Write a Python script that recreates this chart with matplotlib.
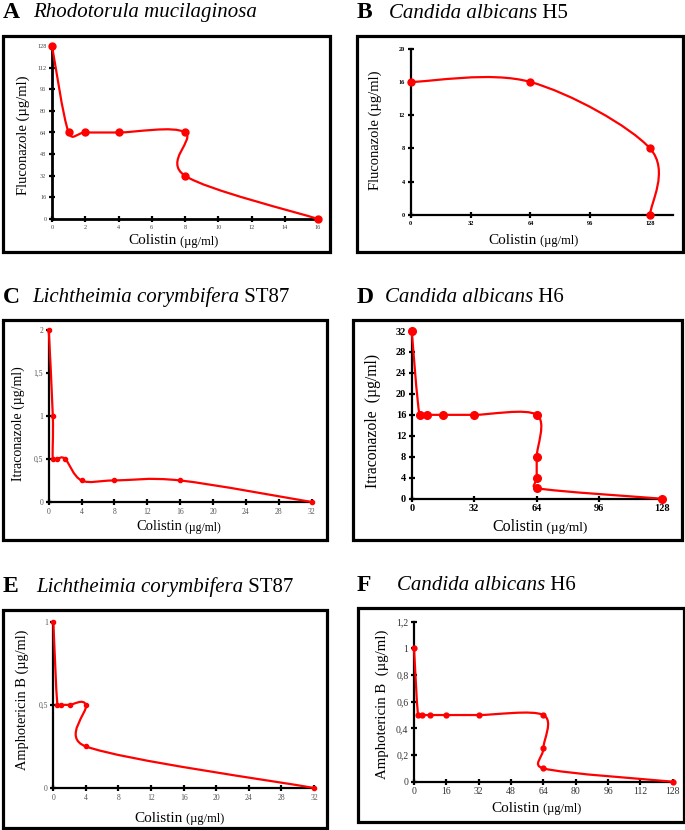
import numpy as np
import matplotlib.pyplot as plt
from matplotlib.path import Path
from matplotlib.patches import PathPatch, Rectangle
from matplotlib.text import Annotation

plt.rcParams['font.family'] = ['Liberation Serif', 'DejaVu Serif']

W, H = 685, 830

# A  Rhodotorula mucilaginosa : colistin vs fluconazole
a_col = [0, 1, 2, 4, 8, 8, 16]
a_drug = [128, 64, 64, 64, 64, 32, 0]
a_xticks = [0, 2, 4, 6, 8, 10, 12, 14, 16]
a_yticks = [0, 16, 32, 48, 64, 80, 96, 112, 128]

# B  Candida albicans H5 : colistin vs fluconazole
b_col = [0, 64, 128, 128]
b_drug = [16, 16, 8, 0]
b_xticks = [0, 32, 64, 96, 128]
b_yticks = [0, 4, 8, 12, 16, 20]

# C  Lichtheimia corymbifera ST87 : colistin vs itraconazole
c_col = [0, 0.5, 0.5, 1, 2, 4, 8, 16, 32]
c_drug = [2, 1, 0.5, 0.5, 0.5, 0.25, 0.25, 0.25, 0]
c_xticks = [0, 4, 8, 12, 16, 20, 24, 28, 32]
c_yticks = [0, 0.5, 1, 1.5, 2]
c_ylabels = ['0', '0,5', '1', '1,5', '2']

# D  Candida albicans H6 : colistin vs itraconazole
d_col = [0, 4, 8, 16, 32, 64, 64, 64, 64, 128]
d_drug = [32, 16, 16, 16, 16, 16, 8, 4, 2, 0]
d_xticks = [0, 32, 64, 96, 128]
d_yticks = [0, 4, 8, 12, 16, 20, 24, 28, 32]

# E  Lichtheimia corymbifera ST87 : colistin vs amphotericin B
e_col = [0, 0.5, 1, 2, 4, 4, 32]
e_drug = [1, 0.5, 0.5, 0.5, 0.5, 0.25, 0]
e_xticks = [0, 4, 8, 12, 16, 20, 24, 28, 32]
e_yticks = [0, 0.5, 1]
e_ylabels = ['0', '0,5', '1']

# F  Candida albicans H6 : colistin vs amphotericin B
f_col = [0, 2, 4, 8, 16, 32, 64, 64, 64, 128]
f_drug = [1, 0.5, 0.5, 0.5, 0.5, 0.5, 0.5, 0.25, 0.1, 0]
f_xticks = [0, 16, 32, 48, 64, 80, 96, 112, 128]
f_yticks = [0, 0.2, 0.4, 0.6, 0.8, 1, 1.2]
f_ylabels = ['0', '0,2', '0,4', '0,6', '0,8', '1', '1,2']

fig = plt.figure(figsize=(W / 100, H / 100), dpi=100)


def px(x0, y0, x1, y1):
    # pixel box -> figure fraction rect
    return [x0 / W, 1 - y1 / H, (x1 - x0) / W, (y1 - y0) / H]


def smooth(ax, xs, ys):
    # smoothed line like the spreadsheet one, worked out in screen space
    (xa, xb), (ya, yb) = ax.get_xlim(), ax.get_ylim()
    bb = ax.get_position()
    sx = bb.width * W / (xb - xa)
    sy = bb.height * H / (yb - ya)
    p = np.column_stack([np.asarray(xs, float) * sx, np.asarray(ys, float) * sy])
    pp = np.vstack([p[0], p, p[-1]])
    d = np.linalg.norm(np.diff(pp, axis=0), axis=1)  # segment lengths

    def fac(seg, other):
        if seg + other == 0:
            return 0
        return min(1 / 6, 0.7 * seg / (seg + other))

    verts, codes = [p[0]], [Path.MOVETO]
    for i in range(len(p) - 1):
        seg = d[i + 1]
        c1 = pp[i + 1] + (pp[i + 2] - pp[i]) * fac(seg, d[i])
        c2 = pp[i + 2] - (pp[i + 3] - pp[i + 1]) * fac(seg, d[i + 2])
        verts += [c1, c2, pp[i + 2]]
        codes += [Path.CURVE4] * 3
    verts = np.array(verts) / [sx, sy]
    return Path(verts, codes)


def panel(rect, frame, xs, ys, xlim, ylim, xticks, yticks, ylabels, ylab,
          ylab_xy, ylab_size, xsplit, xlab_y, xlab_size, tsize, tcolor,
          tweight, ms, spine_w=1.6):
    ax = fig.add_axes(px(*rect))
    fig.add_artist(Rectangle((frame[0] / W, 1 - frame[3] / H),
                             (frame[2] - frame[0]) / W, (frame[3] - frame[1]) / H,
                             transform=fig.transFigure, fill=False,
                             lw=2.3, ec='black'))
    ax.set_xlim(*xlim)
    ax.set_ylim(*ylim)
    ax.set_facecolor('none')
    for s in ['top', 'right']:
        ax.spines[s].set_visible(False)
    for s in ['left', 'bottom']:
        ax.spines[s].set_linewidth(spine_w)
    ax.set_xticks(xticks)
    ax.set_xticklabels([str(t) for t in xticks])
    ax.set_yticks(yticks)
    ax.set_yticklabels(ylabels)
    ax.tick_params(direction='inout', length=4, width=1.6, pad=2,
                   labelsize=tsize, labelcolor=tcolor)
    for lab in ax.get_xticklabels() + ax.get_yticklabels():
        lab.set_fontweight(tweight)

    ax.add_patch(PathPatch(smooth(ax, xs, ys), fill=False, ec='#ff0000',
                           lw=1.6, clip_on=False, zorder=4))
    ax.plot(xs, ys, 'o', color='#ff0000', ms=ms, clip_on=False, zorder=5)

    fig.text(ylab_xy[0] / W, 1 - ylab_xy[1] / H, ylab, rotation=90,
             ha='center', va='center', fontsize=ylab_size)
    t = fig.text(xsplit / W, 1 - xlab_y / H, 'Colistin', ha='right',
                 va='center', fontsize=xlab_size)
    fig.add_artist(Annotation(' (µg/ml)', xy=(1, 0.45), xycoords=t,
                              ha='left', va='center',
                              fontsize=xlab_size - 2))
    return ax


def title(y, lx, letter, sx, species, suffix):
    fig.text(lx / W, 1 - y / H, letter, fontsize=17, fontweight='bold',
             va='center', ha='left')
    t = fig.text(sx / W, 1 - y / H, species, fontsize=15, style='italic',
                 va='center', ha='left')
    if suffix:
        fig.add_artist(Annotation(' ' + suffix, xy=(1, 0.5), xycoords=t,
                                  ha='left', va='center', fontsize=15))


panel((52, 46, 318, 219), (3, 36, 330, 252), a_col, a_drug, (0, 16), (0, 128),
      a_xticks, a_yticks, [str(t) for t in a_yticks], 'Fluconazole (µg/ml)',
      (23, 135), 10.5, 177, 241, 11, 4.5, '#444444', 'normal', 5, 2.0)
title(13, 3, 'A', 33, 'Rhodotorula mucilaginosa', '')

panel((410.7, 48.7, 672.5, 215), (357, 36, 683, 252), b_col, b_drug,
      (0, 140), (0, 20), b_xticks, b_yticks, [str(t) for t in b_yticks],
      'Fluconazole (µg/ml)', (375, 130), 10.5, 537, 240, 11, 4.5, 'black',
      'bold', 5)
title(13, 357, 'B', 389, 'Candida albicans', 'H5')

panel((48.7, 329.7, 311.7, 502), (3, 320, 327, 540), c_col, c_drug, (0, 32),
      (0, 2), c_xticks, c_yticks, c_ylabels, 'Itraconazole (µg/ml)',
      (18, 424), 10, 182, 527, 10.5, 5.5, '#555555', 'normal', 3)
title(297, 3, 'C', 32, 'Lichtheimia corymbifera', 'ST87')

panel((411.7, 331, 661.7, 498.7), (353, 320, 682, 540), d_col, d_drug,
      (0, 128), (0, 32), d_xticks, d_yticks, [str(t) for t in d_yticks],
      'Itraconazole  (µg/ml)', (373, 421), 11.3, 543, 527, 11.5, 7.5, 'black',
      'bold', 5.5)
title(297, 357, 'D', 385, 'Candida albicans', 'H6')

panel((53.3, 621.7, 314, 788), (3, 610, 327, 828), e_col, e_drug, (0, 32),
      (0, 1), e_xticks, e_yticks, e_ylabels, 'Amphotericin B (µg/ml)',
      (22, 700), 10.4, 183, 818, 11, 5.5, '#555555', 'normal', 3)
title(587, 3, 'E', 36, 'Lichtheimia corymbifera', 'ST87')

panel((414, 621.7, 672.7, 781.7), (358, 608, 684, 822), f_col, f_drug,
      (0, 128), (0, 1.2), f_xticks, f_yticks, f_ylabels,
      'Amphotericin B  (µg/ml)', (382, 704), 10.7, 540, 808, 11, 7, '#333333',
      'normal', 3.5)
title(585, 357, 'F', 397, 'Candida albicans', 'H6')

fig.savefig('out.png', dpi=100)
